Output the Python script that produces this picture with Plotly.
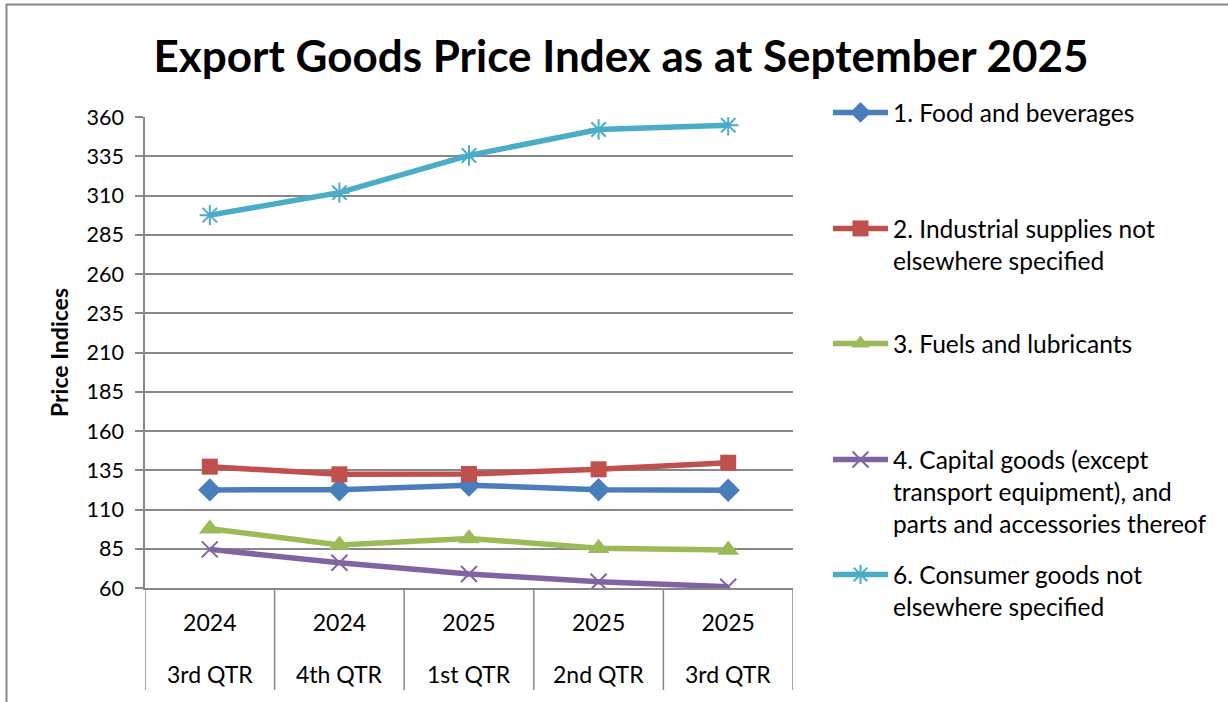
import plotly.graph_objects as go

years = ["2024", "2024", "2025", "2025", "2025"]
quarters = ["3rd QTR", "4th QTR", "1st QTR", "2nd QTR", "3rd QTR"]

series_names = [
    "1. Food and beverages",
    "2. Industrial supplies not<br>elsewhere specified",
    "3. Fuels and lubricants",
    "4. Capital goods (except<br>transport equipment), and<br>parts and accessories thereof",
    "6. Consumer goods not<br>elsewhere specified",
]
food = [122.5, 122.6, 125.5, 122.6, 122.3]
industrial = [137.3, 132.4, 132.6, 135.6, 139.8]
fuels = [97.8, 87.4, 91.6, 85.3, 84.2]
capital = [84.6, 76.1, 68.9, 64.0, 60.8]
consumer = [297.5, 311.8, 335.5, 352.0, 354.7]

y_ticks = list(range(60, 361, 25))

colors = ["#4A7EBB", "#C0504D", "#9BBB59", "#8064A2", "#4BACC6"]
symbols = ["diamond", "square", "triangle-up", "x-thin-open", "asterisk-open"]
msizes = [18, 16, 19, 16, 17]
values = [food, industrial, fuels, capital, consumer]

FONT = "Lato, 'Open Sans', sans-serif"
GRID = "#878787"

W, H = 1228, 702
L, R, T, B = 145, 793, 117, 588  # plot area in screen pixels
pw, ph = R - L, B - T

def px_to_paper_x(px):
    return (px - L) / pw

def px_to_paper_y(py):
    return (B - py) / ph

x_idx = list(range(len(years)))

fig = go.Figure()
legend_names = ["legend", "legend2", "legend3", "legend4", "legend5"]
legend_first_line = [112, 228, 343, 459, 574]

for i in range(5):
    fig.add_trace(go.Scatter(
        x=x_idx, y=values[i], name=series_names[i], mode="lines+markers",
        line=dict(color=colors[i], width=5.5),
        marker=dict(symbol=symbols[i], size=msizes[i], color=colors[i],
                    line=dict(color=colors[i], width=2 if i >= 3 else 0)),
        legend=legend_names[i], showlegend=True,
    ))

layout_legends = {}
for i, ln in enumerate(legend_names):
    layout_legends[ln] = dict(
        x=px_to_paper_x(828), xanchor="left",
        y=px_to_paper_y(legend_first_line[i] - 22), yanchor="top",
        font=dict(family=FONT, size=24.5, color="#000000"),
        bgcolor="rgba(0,0,0,0)", valign="top", itemwidth=55, visible=True,
    )

shapes = []
for i in range(len(years) + 1):
    shapes.append(dict(type="line", xref="x", yref="paper",
                       x0=i - 0.5, x1=i - 0.5, y0=0, y1=px_to_paper_y(690),
                       line=dict(color=GRID, width=1.5)))
# outer chart border (top and left visible)
shapes.append(dict(type="rect", xref="paper", yref="paper",
                   x0=px_to_paper_x(6.5), x1=px_to_paper_x(1300),
                   y0=px_to_paper_y(760), y1=px_to_paper_y(4.5),
                   line=dict(color=GRID, width=2), fillcolor="rgba(0,0,0,0)", layer="below"))

annotations = []
for i, q in enumerate(quarters):
    annotations.append(dict(x=x_idx[i], y=px_to_paper_y(674), xref="x", yref="paper",
                            text=q, showarrow=False, xanchor="center", yanchor="middle",
                            font=dict(family=FONT, size=23, color="#000000")))

fig.update_layout(
    width=W, height=H,
    margin=dict(l=L, r=W - R, t=T, b=H - B),
    paper_bgcolor="white", plot_bgcolor="white",
    showlegend=True,
    font=dict(family=FONT, size=20, color="#000000"),
    title=dict(text="<b>Export Goods Price Index as at September 2025</b>",
               x=621 / W, xanchor="center", xref="container",
               y=1 - 57 / H, yanchor="middle", yref="container",
               font=dict(family=FONT, size=44, color="#000000")),
    xaxis=dict(range=[-0.5, 4.5], tickvals=x_idx, ticktext=years,
               showgrid=False, zeroline=False, showline=True,
               linecolor=GRID, linewidth=1.5, ticks="",
               tickfont=dict(family=FONT, size=23), ticklabelstandoff=14),
    yaxis=dict(range=[60, 360], tickvals=y_ticks, showgrid=True,
               gridcolor=GRID, gridwidth=1.5, zeroline=False,
               showline=True, linecolor=GRID, linewidth=1.5,
               ticks="outside", ticklen=8, tickcolor=GRID, tickwidth=1.5,
               tickfont=dict(family=FONT, size=21.5), ticklabelstandoff=7,
               title=dict(text="<b>Price Indices</b>", standoff=11,
                          font=dict(family=FONT, size=23))),
    shapes=shapes,
    annotations=annotations,
    **layout_legends,
)

fig.write_html("out.html", config={"displayModeBar": False},
               post_script="document.body.style.margin='0';document.body.style.overflow='hidden';")
